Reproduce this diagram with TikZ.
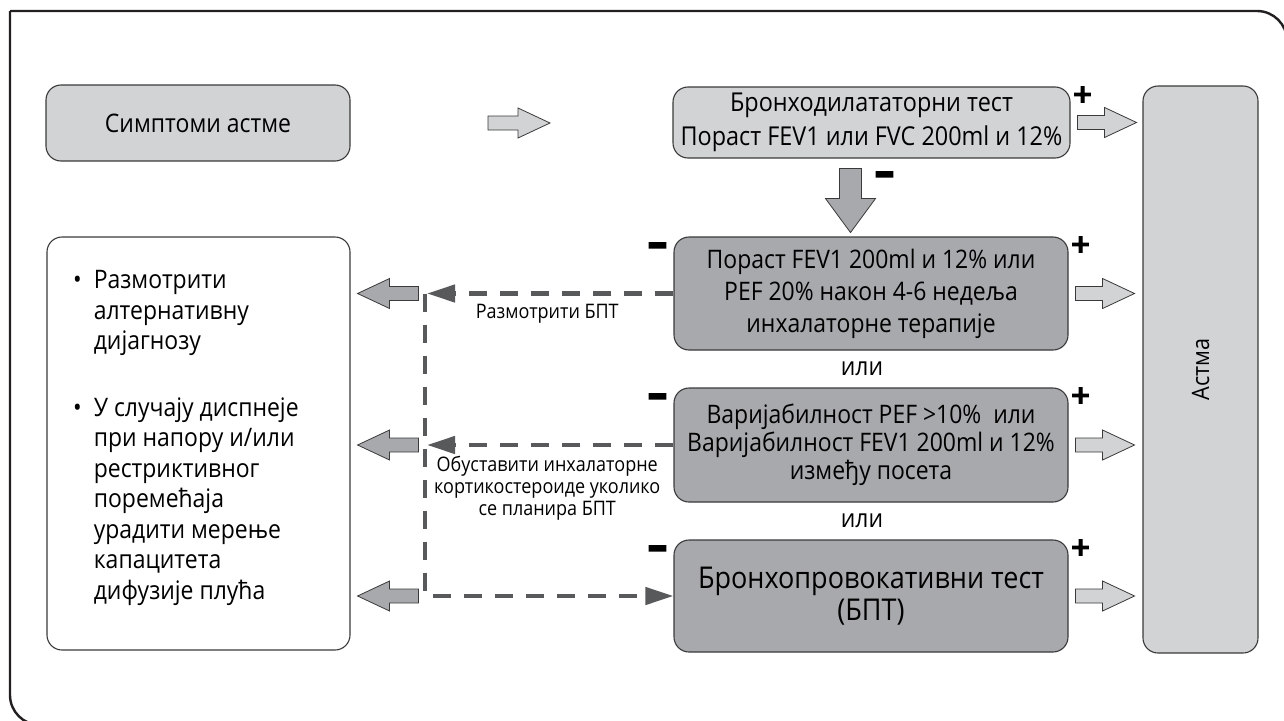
\documentclass[tikz,border=0pt]{standalone}
\usepackage{fontspec}
\setmainfont[FakeStretch=0.9]{Open Sans}
\newfontfamily\signfont[FakeBold=4]{DejaVu Sans}
\usetikzlibrary{arrows.meta,calc}
\definecolor{boxlight}{HTML}{D1D3D4}
\definecolor{boxdark}{HTML}{A7A9AC}
\definecolor{edgegray}{HTML}{3A3A3A}
\definecolor{dashgray}{HTML}{58595B}
\definecolor{framegray}{HTML}{231F20}
\begin{document}
\begin{tikzpicture}[x=1pt,y=-1pt,
  frameline/.style={draw=framegray,line width=2.4pt},
  basebox/.style={draw=edgegray,line width=1.1pt,rounded corners=15pt,
    align=center,inner sep=0pt},
  lightbox/.style={basebox,fill=boxlight},
  darkbox/.style={basebox,fill=boxdark},
  mainfont/.style={font=\fontsize{25.5}{32}\selectfont},
  smallfont/.style={font=\fontsize{20}{22}\selectfont},
  signfont/.style={font=\fontsize{25}{25}\signfont\bfseries,inner sep=0pt},
  minusfont/.style={font=\fontsize{24}{24}\signfont\bfseries,inner sep=0pt,
    text height=0.4em,text depth=0.1em,xscale=1.7,yscale=1.6,transform shape},
  dashln/.style={draw=dashgray,line width=4.5pt,dash pattern=on 18pt off 13pt},
  dtip/.style={-{Triangle[length=28pt,width=17pt]}},
  arrowbody/.style={draw=edgegray,line width=0.8pt},
  sarrow/.pic={\path[pic actions] (0,-7) -- (#1-32,-7) -- (#1-32,-15)
      -- (#1,0) -- (#1-32,15) -- (#1-32,7) -- (0,7) -- cycle;},
  barrow/.pic={\path[pic actions] (0,-11) -- (#1-34,-11) -- (#1-34,-25)
      -- (#1,0) -- (#1-34,25) -- (#1-34,11) -- (0,11) -- cycle;}
]
\useasboundingbox (0,0) rectangle (1284,720);
\clip (0,0) rectangle (1284,720);

% outer frame: square top-left corner, rounded top-right and bottom-left
\draw[frameline] (10,11) -- (1257,11) arc[start angle=270,end angle=360,radius=30]
  -- (1287,760);
\draw[frameline] (10,11) -- (10,695) arc[start angle=180,end angle=90,radius=30]
  -- (1320,725);

% boxes
\node[lightbox,mainfont,minimum width=304pt,minimum height=76pt] (sym) at (198,123)
  {Симптоми астме};
\node[lightbox,minimum width=397pt,minimum height=71pt,
  font=\fontsize{26}{34}\selectfont] (bdt) at (871.5,122.5)
  {Бронходилататорни тест\\Пораст FEV1 или FVC 200ml и 12\%};
\node[darkbox,mainfont,minimum width=394pt,minimum height=113pt] (b2) at (871,293.5)
  {Пораст FEV1 200ml и 12\% или\\PEF 20\% након 4-6 недеља\\инхалаторне терапије};
\node[darkbox,minimum width=394pt,minimum height=114pt,
  font=\fontsize{25.5}{28}\selectfont] (b3) at (871,445)
  {Варијабилност PEF >10\%\ \ или\\Варијабилност FEV1 200ml и 12\%\\између посета};
\node[darkbox,minimum width=394pt,minimum height=112pt,
  font=\fontsize{30}{32}\selectfont] (b4) at (871,596)
  {Бронхопровокативни тест\\(БПТ)};
\node[lightbox,minimum width=115pt,minimum height=567pt] (ast) at (1200.5,369.5) {};
\node[rotate=90,font=\fontsize{24}{24}\selectfont] (astlbl) at (ast.center) {Астма};
\node[basebox,fill=white,minimum width=303pt,minimum height=413pt] (alt) at (198.5,443.5) {};
\node[anchor=north west,inner sep=0pt,align=left,
  font=\fontsize{25.5}{30.5}\selectfont] (alttxt) at (73,267)
  {\begin{tabular}{@{}l@{\hspace{12pt}}l@{}}
   •&Размотрити\\ &алтернативну\\ &дијагнозу\\[36pt]
   •&У случају диспнеје\\ &при напору и/или\\ &рестриктивног\\ &поремећаја\\
    &урадити мерење\\ &капацитета\\ &дифузије плућа
   \end{tabular}};

% "или" between the alternative tests
\node[mainfont] (or1) at ($(b2.south)!0.5!(b3.north)+(-9,0)$) {или};
\node[mainfont] (or2) at ($(b3.south)!0.5!(b4.north)+(-9,0)$) {или};

% block arrows with their + / – marks
\pic[arrowbody,fill=boxlight] at (488,123) {sarrow=62};
\foreach \n in {bdt,b2,b3,b4}{
  \pic[arrowbody,fill=boxlight] at ($(\n.east)+(7,0)$) {sarrow=59};
  \node[signfont] (plus-\n) at ($(\n.north east)+(12,8)$) {+};
}
\foreach \n in {b2,b3,b4}{
  \pic[arrowbody,fill=boxdark,rotate=180] at ($(alt.east |- \n.west)+(68,0)$) {sarrow=61};
  \node[minusfont] (minus-\n) at ($(\n.north west)+(-16,17)$) {–};
}
\pic[arrowbody,fill=boxdark,rotate=-90] at ($(bdt.south)+(-21,10)$) {barrow=64};
\node[minusfont] (dminus) at ($(bdt.south)+(13,24)$) {–};

% dashed connectors
\coordinate (t2) at (427,0 |- b2.west);
\coordinate (t3) at (427,0 |- b3.west);
\coordinate (vtop) at (425,0 |- b2.west);
\draw[dashln,dtip] (b2.west) -- (t2);
\draw[dashln,dtip] (b3.west) -- (t3);
\draw[dashln,dtip] (vtop) |- (b4.west);

% connector labels
\node[smallfont] (lbl1) at ($(t2)!0.5!(b2.west)+(-3,20)$) {Размотрити БПТ};
\node[smallfont,align=center] (lbl2) at ($(t3)!0.5!(b3.west)+(-3,43)$)
  {Обуставити инхалаторне\\кортикостероиде уколико\\се планира БПТ};
\end{tikzpicture}
\end{document}
